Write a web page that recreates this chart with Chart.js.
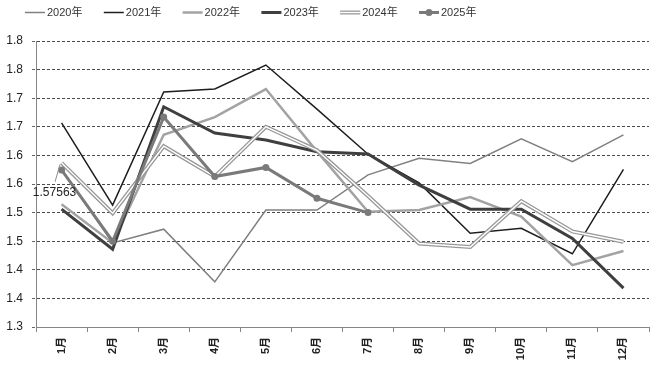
<!DOCTYPE html>
<html>
<head>
<meta charset="utf-8">
<script src="https://cdn.jsdelivr.net/npm/chart.js@4.4.0/dist/chart.umd.min.js"></script>
<style>
  body { margin: 0; background: #fff; }
  canvas { display: block; }
</style>
</head>
<body>
<canvas id="myChart" width="656" height="366"></canvas>
<script>
// 月份
const months = ["1月", "2月", "3月", "4月", "5月", "6月", "7月", "8月", "9月", "10月", "11月", "12月"];

// 各年份数据
const y2020 = [1.57563, 1.447, 1.471, 1.379, 1.5045, 1.5045, 1.566, 1.595, 1.586, 1.629, 1.589, 1.636];
const y2021 = [1.657, 1.513, 1.711, 1.716, 1.758, 1.681, 1.602, 1.552, 1.464, 1.4725, 1.428, 1.5757];
const y2022 = [1.5145, 1.447, 1.636, 1.667, 1.716, 1.607, 1.5016, 1.5045, 1.527, 1.493, 1.408, 1.433];
const y2023 = [1.506, 1.436, 1.685, 1.639, 1.627, 1.6065, 1.6025, 1.548, 1.506, 1.506, 1.455, 1.368];
const y2024 = [1.587, 1.499, 1.616, 1.563, 1.650, 1.609, 1.529, 1.446, 1.440, 1.520, 1.467, 1.449];
const y2025 = [1.5745, 1.450, 1.667, 1.563, 1.579, 1.525, 1.500, null, null, null, null, null];

// 纵轴刻度标签（原图保留一位小数）
const yTickLabels = ["1.3", "1.4", "1.4", "1.5", "1.5", "1.6", "1.6", "1.7", "1.7", "1.8", "1.8"];

const seriesNames = ["2020年", "2021年", "2022年", "2023年", "2024年", "2025年"];

const legendFont = "11px 'Liberation Sans Narrow', 'Liberation Sans', 'Noto Sans CJK SC', sans-serif";

function lineSet(label, data, color, width, order) {
  return {
    label: label,
    data: data,
    borderColor: color,
    backgroundColor: color,
    borderWidth: width,
    pointRadius: 0,
    tension: 0,
    fill: false,
    order: order,
  };
}

// 图例（自己画，方便对齐原图）
const legendPlugin = {
  id: "customLegend",
  afterDraw(chart) {
    const ctx = chart.ctx;
    const startX = 25;
    const step = 78.8;
    const y = 12.5;
    ctx.save();
    ctx.font = legendFont;
    ctx.textBaseline = "middle";
    seriesNames.forEach((name, i) => {
      const x = startX + i * step;
      ctx.lineCap = "butt";
      if (i === 4) {
        ctx.strokeStyle = "#9a9a9a";
        ctx.lineWidth = 4;
        ctx.beginPath(); ctx.moveTo(x, y); ctx.lineTo(x + 20, y); ctx.stroke();
        ctx.strokeStyle = "#ffffff";
        ctx.lineWidth = 1.4;
        ctx.beginPath(); ctx.moveTo(x, y); ctx.lineTo(x + 20, y); ctx.stroke();
      } else {
        const ds = chart.data.datasets.find((d) => d.label === name);
        ctx.strokeStyle = ds.borderColor;
        ctx.lineWidth = ds.borderWidth;
        ctx.beginPath(); ctx.moveTo(x, y); ctx.lineTo(x + 20, y); ctx.stroke();
        if (i === 5) {
          ctx.fillStyle = ds.borderColor;
          ctx.beginPath(); ctx.arc(x + 10, y, 3.5, 0, Math.PI * 2); ctx.fill();
        }
      }
      ctx.fillStyle = "#333";
      ctx.fillText(name, x + 22, y + 0.5);
    });
    ctx.restore();
  },
};

// 1月数据标签 1.57563
const dataLabelPlugin = {
  id: "janLabel",
  afterDatasetsDraw(chart) {
    const meta = chart.getDatasetMeta(0);
    const pt = meta.data[0];
    if (!pt) return;
    const ctx = chart.ctx;
    ctx.save();
    ctx.strokeStyle = "#8c8c8c";
    ctx.lineWidth = 1;
    ctx.beginPath();
    ctx.moveTo(pt.x - 6.5, pt.y + 12.5);
    ctx.lineTo(pt.x - 1.5, pt.y - 5);
    ctx.stroke();
    ctx.font = "12px 'Liberation Sans', sans-serif";
    ctx.fillStyle = "#222";
    ctx.textAlign = "center";
    ctx.textBaseline = "middle";
    ctx.fillText(String(y2020[0]), pt.x - 7, pt.y + 23.5);
    ctx.restore();
  },
};

function renderChart() {
  const ctx = document.getElementById("myChart").getContext("2d");

  const ds2025 = lineSet("2025年", y2025, "#7a7a7a", 3, 0);
  ds2025.pointRadius = 3.5;
  ds2025.pointBorderWidth = 0;
  ds2025.pointBackgroundColor = "#7a7a7a";

  const overlay2024 = lineSet("2024年_inner", y2024, "#ffffff", 1.4, 1);

  new Chart(ctx, {
    type: "line",
    data: {
      labels: months,
      datasets: [
        lineSet("2020年", y2020, "#808080", 1.5, 6),
        lineSet("2021年", y2021, "#1e1e1e", 1.5, 5),
        lineSet("2022年", y2022, "#a3a3a3", 2.5, 4),
        lineSet("2023年", y2023, "#3f3f3f", 3, 3),
        lineSet("2024年", y2024, "#979797", 4, 2),
        overlay2024,
        ds2025,
      ],
    },
    options: {
      responsive: false,
      animation: false,
      layout: { padding: { top: 41, right: 7, left: 0, bottom: 0 } },
      plugins: {
        legend: { display: false },
        tooltip: { enabled: false },
      },
      scales: {
        x: {
          offset: true,
          afterFit: (scale) => { scale.height = 39; },
          grid: {
            offset: true,
            drawOnChartArea: false,
            drawTicks: true,
            tickLength: 5,
            color: "#868686",
            tickColor: "#868686",
          },
          border: { display: true, color: "#868686", width: 1 },
          ticks: {
            autoSkip: false,
            minRotation: 90,
            maxRotation: 90,
            padding: 5,
            color: "#222",
            font: { family: "'Liberation Sans', 'Noto Sans CJK SC', sans-serif", size: 11, weight: "bold" },
          },
        },
        y: {
          min: 1.3,
          max: 1.8,
          afterFit: (scale) => { scale.width = 36; },
          afterBuildTicks: (scale) => {
            scale.ticks = yTickLabels.map((_, i) => ({ value: 1.3 + i * 0.05 }));
          },
          grid: {
            color: (c) => (c.index === 0 ? "rgba(0,0,0,0)" : "#4a4a4a"),
            lineWidth: 1,
            drawTicks: true,
            tickLength: 4,
            tickColor: "#666666",
            tickBorderDash: [3, 2],
          },
          border: { display: true, color: "#868686", width: 1, dash: [3, 2] },
          ticks: {
            padding: 9,
            color: "#222",
            font: { family: "'Liberation Sans', sans-serif", size: 12 },
            callback: (value, index) => yTickLabels[index],
          },
        },
      },
    },
    plugins: [legendPlugin, dataLabelPlugin],
  });
}

document.addEventListener("DOMContentLoaded", () => {
  renderChart();
});
</script>
</body>
</html>
